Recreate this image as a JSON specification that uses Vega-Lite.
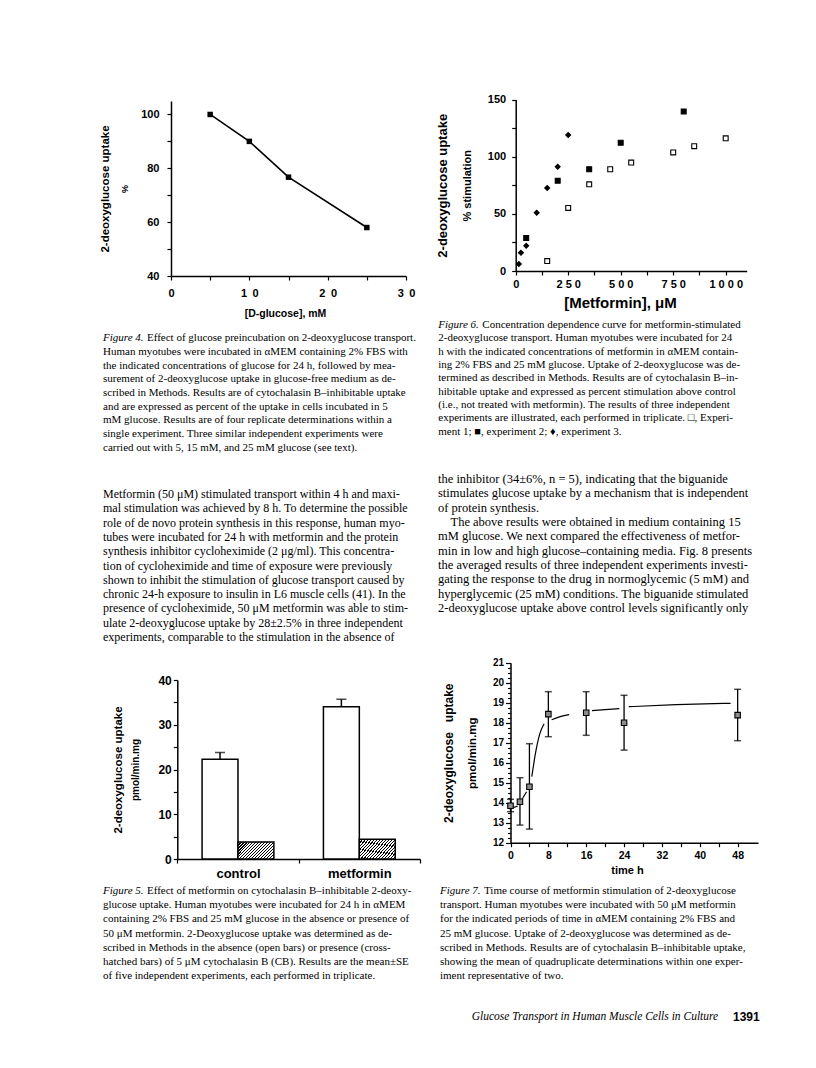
{
"$schema":"https://vega.github.io/schema/vega-lite/v6.json",
"width":816,"height":1068,
"autosize":{"type":"none"},
"padding":0,
"background":"white",
"config":{
 "view":{"stroke":null},
 "axis":{"grid":false,"domainColor":"#000","tickColor":"#000","labelColor":"#000","titleColor":"#000","labelFont":"Liberation Sans","titleFont":"Liberation Sans","labelFontWeight":"bold","titleFontWeight":"bold","labelFlush":false,"labelOverlap":false,"domainWidth":1.5,"tickWidth":1.2,"tickSize":4,"minExtent":0}
},
"datasets":{
 "f4":[{"glucose":5,"uptake":100},{"glucose":10,"uptake":90},{"glucose":15,"uptake":76.7},{"glucose":25,"uptake":58}],
 "f6":[
  {"exp":"Experiment 1","metformin":150,"stim":8.7},
  {"exp":"Experiment 1","metformin":250,"stim":55.2},
  {"exp":"Experiment 1","metformin":350,"stim":75.8},
  {"exp":"Experiment 1","metformin":450,"stim":89},
  {"exp":"Experiment 1","metformin":550,"stim":94.8},
  {"exp":"Experiment 1","metformin":750,"stim":103.7},
  {"exp":"Experiment 1","metformin":850,"stim":109.2},
  {"exp":"Experiment 1","metformin":1000,"stim":116},
  {"exp":"Experiment 2","metformin":50,"stim":28.8},
  {"exp":"Experiment 2","metformin":200,"stim":79},
  {"exp":"Experiment 2","metformin":350,"stim":89},
  {"exp":"Experiment 2","metformin":500,"stim":112.2},
  {"exp":"Experiment 2","metformin":800,"stim":139.5},
  {"exp":"Experiment 3","metformin":15,"stim":6.1},
  {"exp":"Experiment 3","metformin":25,"stim":16},
  {"exp":"Experiment 3","metformin":50,"stim":22},
  {"exp":"Experiment 3","metformin":100,"stim":51},
  {"exp":"Experiment 3","metformin":150,"stim":72.6},
  {"exp":"Experiment 3","metformin":200,"stim":91.2},
  {"exp":"Experiment 3","metformin":250,"stim":119}
 ],
 "f5":[
  {"group":"control","cond":"open","uptake":22.3,"upper":23.8},
  {"group":"control","cond":"CB","uptake":3.8},
  {"group":"metformin","cond":"open","uptake":34.0,"upper":35.7},
  {"group":"metformin","cond":"CB","uptake":4.4}
 ],
 "f7":[
  {"t":0,"mean":13.85,"lo":13.55,"hi":14.17},
  {"t":2,"mean":14.05,"lo":12.88,"hi":15.25},
  {"t":4,"mean":14.8,"lo":12.68,"hi":16.95},
  {"t":8,"mean":18.43,"lo":17.3,"hi":19.55},
  {"t":16,"mean":18.5,"lo":17.37,"hi":19.55},
  {"t":24,"mean":18.0,"lo":16.63,"hi":19.37},
  {"t":48,"mean":18.38,"lo":17.1,"hi":19.67}
 ],
 "f7fit":[
  {"seg":1,"t":0.1,"y":13.72},{"seg":1,"t":1.5,"y":13.83},
  {"seg":2,"t":2.5,"y":14.2},{"seg":2,"t":3.4,"y":14.55},
  {"seg":3,"t":4.5,"y":15.3},{"seg":3,"t":5.3,"y":16.5},{"seg":3,"t":6.2,"y":17.45},{"seg":3,"t":7.1,"y":17.95},
  {"seg":4,"t":8.7,"y":18.15},{"seg":4,"t":10.5,"y":18.3},{"seg":4,"t":12.4,"y":18.4},
  {"seg":5,"t":17.2,"y":18.6},{"seg":5,"t":20,"y":18.65},{"seg":5,"t":23,"y":18.7},
  {"seg":6,"t":25,"y":18.8},{"seg":6,"t":35,"y":18.9},{"seg":6,"t":46.5,"y":18.97}
 ],
 "cap4":[
  {"line":1,"lead":"Figure 4.","text":"Effect of glucose preincubation on 2-deoxyglucose transport."},
  {"line":2,"text":"Human myotubes were incubated in αMEM containing 2% FBS with"},
  {"line":3,"text":"the indicated concentrations of glucose for 24 h, followed by mea-"},
  {"line":4,"text":"surement of 2-deoxyglucose uptake in glucose-free medium as de-"},
  {"line":5,"text":"scribed in Methods. Results are of cytochalasin B–inhibitable uptake"},
  {"line":6,"text":"and are expressed as percent of the uptake in cells incubated in 5"},
  {"line":7,"text":"mM glucose. Results are of four replicate determinations within a"},
  {"line":8,"text":"single experiment. Three similar independent experiments were"},
  {"line":9,"text":"carried out with 5, 15 mM, and 25 mM glucose (see text)."}
 ],
 "cap6":[
  {"line":1,"lead":"Figure 6.","text":"Concentration dependence curve for metformin-stimulated"},
  {"line":2,"text":"2-deoxyglucose transport. Human myotubes were incubated for 24"},
  {"line":3,"text":"h with the indicated concentrations of metformin in αMEM contain-"},
  {"line":4,"text":"ing 2% FBS and 25 mM glucose. Uptake of 2-deoxyglucose was de-"},
  {"line":5,"text":"termined as described in Methods. Results are of cytochalasin B–in-"},
  {"line":6,"text":"hibitable uptake and expressed as percent stimulation above control"},
  {"line":7,"text":"(i.e., not treated with metformin). The results of three independent"},
  {"line":8,"text":"experiments are illustrated, each performed in triplicate. □, Experi-"},
  {"line":9,"text":"ment 1; ■, experiment 2; ♦, experiment 3."}
 ],
 "bodyL":[
  {"line":1,"text":"Metformin (50 μM) stimulated transport within 4 h and maxi-"},
  {"line":2,"text":"mal stimulation was achieved by 8 h. To determine the possible"},
  {"line":3,"text":"role of de novo protein synthesis in this response, human myo-"},
  {"line":4,"text":"tubes were incubated for 24 h with metformin and the protein"},
  {"line":5,"text":"synthesis inhibitor cycloheximide (2 μg/ml). This concentra-"},
  {"line":6,"text":"tion of cycloheximide and time of exposure were previously"},
  {"line":7,"text":"shown to inhibit the stimulation of glucose transport caused by"},
  {"line":8,"text":"chronic 24-h exposure to insulin in L6 muscle cells (41). In the"},
  {"line":9,"text":"presence of cycloheximide, 50 μM metformin was able to stim-"},
  {"line":10,"text":"ulate 2-deoxyglucose uptake by 28±2.5% in three independent"},
  {"line":11,"text":"experiments, comparable to the stimulation in the absence of"}
 ],
 "bodyR":[
  {"line":1,"text":"the inhibitor (34±6%, n = 5), indicating that the biguanide"},
  {"line":2,"text":"stimulates glucose uptake by a mechanism that is independent"},
  {"line":3,"text":"of protein synthesis."},
  {"line":4,"text":"\u200b\u00a0\u00a0\u00a0\u00a0The above results were obtained in medium containing 15"},
  {"line":5,"text":"mM glucose. We next compared the effectiveness of metfor-"},
  {"line":6,"text":"min in low and high glucose–containing media. Fig. 8 presents"},
  {"line":7,"text":"the averaged results of three independent experiments investi-"},
  {"line":8,"text":"gating the response to the drug in normoglycemic (5 mM) and"},
  {"line":9,"text":"hyperglycemic (25 mM) conditions. The biguanide stimulated"},
  {"line":10,"text":"2-deoxyglucose uptake above control levels significantly only"}
 ],
 "cap5":[
  {"line":1,"lead":"Figure 5.","text":"Effect of metformin on cytochalasin B–inhibitable 2-deoxy-"},
  {"line":2,"text":"glucose uptake. Human myotubes were incubated for 24 h in αMEM"},
  {"line":3,"text":"containing 2% FBS and 25 mM glucose in the absence or presence of"},
  {"line":4,"text":"50 μM metformin. 2-Deoxyglucose uptake was determined as de-"},
  {"line":5,"text":"scribed in Methods in the absence (open bars) or presence (cross-"},
  {"line":6,"text":"hatched bars) of 5 μM cytochalasin B (CB). Results are the mean±SE"},
  {"line":7,"text":"of five independent experiments, each performed in triplicate."}
 ],
 "cap7":[
  {"line":1,"lead":"Figure 7.","text":"Time course of metformin stimulation of 2-deoxyglucose"},
  {"line":2,"text":"transport. Human myotubes were incubated with 50 μM metformin"},
  {"line":3,"text":"for the indicated periods of time in αMEM containing 2% FBS and"},
  {"line":4,"text":"25 mM glucose. Uptake of 2-deoxyglucose was determined as de-"},
  {"line":5,"text":"scribed in Methods. Results are of cytochalasin B–inhibitable uptake,"},
  {"line":6,"text":"showing the mean of quadruplicate determinations within one exper-"},
  {"line":7,"text":"iment representative of two."}
 ],
 "footer":[
  {"part":"title","text":"Glucose Transport in Human Muscle Cells in Culture"},
  {"part":"page","text":"1391"}
 ]
},
"layer":[
 {"data":{"name":"f4"},
  "layer":[
   {"mark":{"type":"line","color":"#000","strokeWidth":1.6},
    "encoding":{
     "x":{"field":"glucose","type":"quantitative","scale":{"domain":[0,30],"range":[171,406],"nice":false,"zero":false},
      "axis":{"orient":"bottom","offset":-792,"values":[0,5,10,15,20,25,30],"labelExpr":"datum.value % 10 == 0 ? join(split(format(datum.value, 'd'), ''), '\u2002') : ''","labelFontSize":11,"labelPadding":7,"title":"[D-glucose], mM","titleFontSize":10.5,"titleX":285,"titleY":37,"titleAlign":"center","titleBaseline":"middle"}},
     "y":{"field":"uptake","type":"quantitative","scale":{"domain":[40,105],"range":[276,101],"nice":false,"zero":false},
      "axis":{"orient":"left","offset":-171,"values":[40,50,60,70,80,90,100],"labelExpr":"datum.value % 20 == 0 ? datum.label : ''","labelFontSize":11,"labelPadding":8,"title":"%","titleFontSize":9,"titlePadding":11}}}},
   {"mark":{"type":"square","color":"#000","size":30,"opacity":1},
    "encoding":{
     "x":{"field":"glucose","type":"quantitative","scale":{"domain":[0,30],"range":[171,406],"nice":false,"zero":false},"axis":null},
     "y":{"field":"uptake","type":"quantitative","scale":{"domain":[40,105],"range":[276,101],"nice":false,"zero":false},
      "axis":{"orient":"left","offset":-171,"labels":false,"ticks":false,"domain":false,"title":"2-deoxyglucose uptake","titleFontSize":11.5,"titlePadding":61}}}}
  ],
  "resolve":{"axis":{"x":"independent","y":"independent"}}
 },
 {"data":{"name":"f6"},
  "layer":[
   {"mark":{"type":"point","filled":true,"size":24,"stroke":"#000","strokeWidth":1.1,"opacity":1},
    "encoding":{
     "x":{"field":"metformin","type":"quantitative","scale":{"domain":[0,1100],"range":[515.7,746.7],"nice":false,"zero":false},
      "axis":{"orient":"bottom","offset":-797,"values":[0,125,250,375,500,625,750,875,1000],"labelExpr":"datum.value % 250 == 0 ? join(split(format(datum.value, 'd'), ''), ' ') : ''","labelFontSize":11,"labelPadding":3,"title":"[Metformin], μM","titleFontSize":15,"titleX":620,"titleY":31,"titleAlign":"center","titleBaseline":"middle"}},
     "y":{"field":"stim","type":"quantitative","scale":{"domain":[0,150],"range":[271,99.5],"nice":false,"zero":false},
      "axis":{"orient":"left","offset":-515.7,"values":[0,25,50,75,100,125,150],"labelExpr":"datum.value % 50 == 0 ? datum.label : ''","labelFontSize":11,"labelPadding":6,"title":"% stimulation","titleFontSize":11,"titlePadding":15}},
     "shape":{"field":"exp","type":"nominal","scale":{"domain":["Experiment 1","Experiment 2","Experiment 3"],"range":["square","square","diamond"]},"legend":null},
     "fill":{"field":"exp","type":"nominal","scale":{"domain":["Experiment 1","Experiment 2","Experiment 3"],"range":["#ffffff","#000000","#000000"]},"legend":null}}},
   {"mark":{"type":"point","opacity":0},
    "encoding":{
     "x":{"field":"metformin","type":"quantitative","scale":{"domain":[0,1100],"range":[515.7,746.7],"nice":false,"zero":false},"axis":null},
     "y":{"field":"stim","type":"quantitative","scale":{"domain":[0,150],"range":[271,99.5],"nice":false,"zero":false},
      "axis":{"orient":"left","offset":-515.7,"labels":false,"ticks":false,"domain":false,"title":"2-deoxyglucose uptake","titleFontSize":13,"titlePadding":66}}}}
  ],
  "resolve":{"axis":{"x":"independent","y":"independent"}}
 },
 {"data":{"name":"f5"},
  "layer":[
   {"transform":[{"filter":"datum.cond == 'open'"}],
    "mark":{"type":"bar","fill":"#fff","stroke":"#000","strokeWidth":1.5},
    "encoding":{
     "x":{"field":"group","type":"nominal","scale":{"domain":["control","metformin"],"range":[177.3,420],"paddingInner":0,"paddingOuter":0},
      "axis":{"orient":"bottom","offset":-209,"labelAngle":0,"labelFontSize":13,"labelPadding":4,"tickBand":"extent","title":null}},
     "xOffset":{"field":"cond","type":"nominal","scale":{"domain":["open","CB"],"paddingInner":0,"paddingOuter":0.69}},
     "y":{"field":"uptake","type":"quantitative","scale":{"domain":[0,40],"range":[859,680],"nice":false},
      "axis":{"orient":"left","offset":-177.3,"values":[0,5,10,15,20,25,30,35,40],"labelExpr":"datum.value % 10 == 0 ? datum.label : ''","labelFontSize":12,"labelPadding":2,"title":"pmol/min.mg","titleFontSize":10,"titlePadding":17}}}},
   {"transform":[{"filter":"datum.cond == 'CB'"}],
    "mark":{"type":"bar","stroke":"#000","strokeWidth":1.5,
     "fill":{"gradient":"linear","x1":0,"y1":0,"x2":1.21,"y2":0.57,"stops":[
      {"offset":0,"color":"#000"},{"offset":0.0222,"color":"#000"},{"offset":0.0222,"color":"#fff"},{"offset":0.0556,"color":"#fff"},
      {"offset":0.0556,"color":"#000"},{"offset":0.0778,"color":"#000"},{"offset":0.0778,"color":"#fff"},{"offset":0.1111,"color":"#fff"},
      {"offset":0.1111,"color":"#000"},{"offset":0.1333,"color":"#000"},{"offset":0.1333,"color":"#fff"},{"offset":0.1667,"color":"#fff"},
      {"offset":0.1667,"color":"#000"},{"offset":0.1889,"color":"#000"},{"offset":0.1889,"color":"#fff"},{"offset":0.2222,"color":"#fff"},
      {"offset":0.2222,"color":"#000"},{"offset":0.2444,"color":"#000"},{"offset":0.2444,"color":"#fff"},{"offset":0.2778,"color":"#fff"},
      {"offset":0.2778,"color":"#000"},{"offset":0.3,"color":"#000"},{"offset":0.3,"color":"#fff"},{"offset":0.3333,"color":"#fff"},
      {"offset":0.3333,"color":"#000"},{"offset":0.3556,"color":"#000"},{"offset":0.3556,"color":"#fff"},{"offset":0.3889,"color":"#fff"},
      {"offset":0.3889,"color":"#000"},{"offset":0.4111,"color":"#000"},{"offset":0.4111,"color":"#fff"},{"offset":0.4444,"color":"#fff"},
      {"offset":0.4444,"color":"#000"},{"offset":0.4667,"color":"#000"},{"offset":0.4667,"color":"#fff"},{"offset":0.5,"color":"#fff"},
      {"offset":0.5,"color":"#000"},{"offset":0.5222,"color":"#000"},{"offset":0.5222,"color":"#fff"},{"offset":0.5556,"color":"#fff"},
      {"offset":0.5556,"color":"#000"},{"offset":0.5778,"color":"#000"},{"offset":0.5778,"color":"#fff"},{"offset":0.6111,"color":"#fff"},
      {"offset":0.6111,"color":"#000"},{"offset":0.6333,"color":"#000"},{"offset":0.6333,"color":"#fff"},{"offset":0.6667,"color":"#fff"},
      {"offset":0.6667,"color":"#000"},{"offset":0.6889,"color":"#000"},{"offset":0.6889,"color":"#fff"},{"offset":0.7222,"color":"#fff"},
      {"offset":0.7222,"color":"#000"},{"offset":0.7444,"color":"#000"},{"offset":0.7444,"color":"#fff"},{"offset":0.7778,"color":"#fff"},
      {"offset":0.7778,"color":"#000"},{"offset":0.8,"color":"#000"},{"offset":0.8,"color":"#fff"},{"offset":0.8333,"color":"#fff"},
      {"offset":0.8333,"color":"#000"},{"offset":0.8556,"color":"#000"},{"offset":0.8556,"color":"#fff"},{"offset":0.8889,"color":"#fff"},
      {"offset":0.8889,"color":"#000"},{"offset":0.9111,"color":"#000"},{"offset":0.9111,"color":"#fff"},{"offset":0.9444,"color":"#fff"},
      {"offset":0.9444,"color":"#000"},{"offset":0.9667,"color":"#000"},{"offset":0.9667,"color":"#fff"},{"offset":1,"color":"#fff"}
     ]}},
    "encoding":{
     "x":{"field":"group","type":"nominal","scale":{"domain":["control","metformin"],"range":[177.3,420],"paddingInner":0,"paddingOuter":0},"axis":null},
     "xOffset":{"field":"cond","type":"nominal","scale":{"domain":["open","CB"],"paddingInner":0,"paddingOuter":0.69}},
     "y":{"field":"uptake","type":"quantitative","scale":{"domain":[0,40],"range":[859,680],"nice":false},
      "axis":{"orient":"left","offset":-177.3,"labels":false,"ticks":false,"domain":false,"title":"2-deoxyglucose uptake","titleFontSize":11.5,"titlePadding":54}}}},
   {"transform":[{"filter":"datum.cond == 'open'"}],
    "mark":{"type":"rule","color":"#000","strokeWidth":1.5},
    "encoding":{
     "x":{"field":"group","type":"nominal","scale":{"domain":["control","metformin"],"range":[177.3,420],"paddingInner":0,"paddingOuter":0},"axis":null},
     "xOffset":{"field":"cond","type":"nominal","scale":{"domain":["open","CB"],"paddingInner":0,"paddingOuter":0.69}},
     "y":{"field":"uptake","type":"quantitative","scale":{"domain":[0,40],"range":[859,680],"nice":false},"axis":null},
     "y2":{"field":"upper"}}},
   {"transform":[{"filter":"datum.cond == 'open'"}],
    "mark":{"type":"tick","orient":"horizontal","color":"#000","size":10,"thickness":1.5},
    "encoding":{
     "x":{"field":"group","type":"nominal","scale":{"domain":["control","metformin"],"range":[177.3,420],"paddingInner":0,"paddingOuter":0},"axis":null},
     "xOffset":{"field":"cond","type":"nominal","scale":{"domain":["open","CB"],"paddingInner":0,"paddingOuter":0.69}},
     "y":{"field":"upper","type":"quantitative","scale":{"domain":[0,40],"range":[859,680],"nice":false},"axis":null}}}
  ],
  "resolve":{"axis":{"x":"independent","y":"independent"}}
 },
 {"layer":[
   {"data":{"name":"f7fit"},
    "mark":{"type":"line","color":"#000","strokeWidth":1.2,"interpolate":"monotone"},
    "encoding":{
     "x":{"field":"t","type":"quantitative","scale":{"domain":[0,52.3],"range":[510.5,758],"nice":false,"zero":false},
      "axis":{"orient":"bottom","offset":-225.3,"values":[0,4,8,12,16,20,24,28,32,36,40,44,48],"labelExpr":"datum.value % 8 == 0 ? datum.label : ''","labelFontSize":10.5,"labelPadding":4,"title":"time h","titleFontSize":11,"titleX":627,"titleY":27.5,"titleAlign":"center","titleBaseline":"middle"}},
     "y":{"field":"y","type":"quantitative","scale":{"domain":[12,21],"range":[842.7,662.7],"nice":false,"zero":false},
      "axis":{"orient":"left","offset":-510.5,"values":[12,12.25,12.5,12.75,13,13.25,13.5,13.75,14,14.25,14.5,14.75,15,15.25,15.5,15.75,16,16.25,16.5,16.75,17,17.25,17.5,17.75,18,18.25,18.5,18.75,19,19.25,19.5,19.75,20,20.25,20.5,20.75,21],"labelExpr":"datum.value % 1 == 0 ? format(datum.value, 'd') : ''","tickSize":{"condition":{"test":"datum.value % 1 == 0","value":5},"value":3},"labelFontSize":10,"labelPadding":2,"title":"pmol/min.mg","titleFontSize":11.5,"titlePadding":15}},
     "detail":{"field":"seg","type":"nominal"}}},
   {"data":{"name":"f7"},
    "mark":{"type":"rule","color":"#000","strokeWidth":1.3},
    "encoding":{
     "x":{"field":"t","type":"quantitative","scale":{"domain":[0,52.3],"range":[510.5,758],"nice":false,"zero":false},"axis":null},
     "y":{"field":"lo","type":"quantitative","scale":{"domain":[12,21],"range":[842.7,662.7],"nice":false,"zero":false},"axis":null},
     "y2":{"field":"hi"}}},
   {"data":{"name":"f7"},
    "mark":{"type":"tick","orient":"horizontal","color":"#000","size":7,"thickness":1.5},
    "encoding":{
     "x":{"field":"t","type":"quantitative","scale":{"domain":[0,52.3],"range":[510.5,758],"nice":false,"zero":false},"axis":null},
     "y":{"field":"lo","type":"quantitative","scale":{"domain":[12,21],"range":[842.7,662.7],"nice":false,"zero":false},"axis":null}}},
   {"data":{"name":"f7"},
    "mark":{"type":"tick","orient":"horizontal","color":"#000","size":7,"thickness":1.5},
    "encoding":{
     "x":{"field":"t","type":"quantitative","scale":{"domain":[0,52.3],"range":[510.5,758],"nice":false,"zero":false},"axis":null},
     "y":{"field":"hi","type":"quantitative","scale":{"domain":[12,21],"range":[842.7,662.7],"nice":false,"zero":false},"axis":null}}},
   {"data":{"name":"f7"},
    "mark":{"type":"square","size":30,"fill":"#8c8c8c","stroke":"#000","strokeWidth":1.1,"opacity":1},
    "encoding":{
     "x":{"field":"t","type":"quantitative","scale":{"domain":[0,52.3],"range":[510.5,758],"nice":false,"zero":false},"axis":null},
     "y":{"field":"mean","type":"quantitative","scale":{"domain":[12,21],"range":[842.7,662.7],"nice":false,"zero":false},
      "axis":{"orient":"left","offset":-510.5,"labels":false,"ticks":false,"domain":false,"title":"2-deoxyglucose\u00a0\u00a0\u00a0uptake","titleFontSize":12,"titlePadding":55}}}}
  ],
  "resolve":{"axis":{"x":"independent","y":"independent"}}
 },
 {"data":{"name":"cap4"},
  "layer":[
   {"transform":[{"filter":"!datum.lead"}],
    "mark":{"type":"text","align":"left","baseline":"middle","font":"Liberation Serif","fontSize":11,"fill":"#000"},
    "encoding":{
     "x":{"datum":0,"type":"quantitative","scale":{"domain":[0,1],"range":[103,104]},"axis":null},
     "y":{"field":"line","type":"quantitative","scale":{"domain":[1,9],"range":[338.3,447.7]},"axis":null},
     "text":{"field":"text"}}},
   {"transform":[{"filter":"datum.lead"}],
    "mark":{"type":"text","align":"left","baseline":"middle","font":"Liberation Serif","fontSize":11,"fill":"#000","dx":44},
    "encoding":{
     "x":{"datum":0,"type":"quantitative","scale":{"domain":[0,1],"range":[103,104]},"axis":null},
     "y":{"field":"line","type":"quantitative","scale":{"domain":[1,9],"range":[338.3,447.7]},"axis":null},
     "text":{"field":"text"}}},
   {"transform":[{"filter":"datum.lead"}],
    "mark":{"type":"text","align":"left","baseline":"middle","font":"Liberation Serif","fontStyle":"italic","fontSize":11,"fill":"#000"},
    "encoding":{
     "x":{"datum":0,"type":"quantitative","scale":{"domain":[0,1],"range":[103,104]},"axis":null},
     "y":{"field":"line","type":"quantitative","scale":{"domain":[1,9],"range":[338.3,447.7]},"axis":null},
     "text":{"field":"lead"}}}
  ]
 },
 {"data":{"name":"cap6"},
  "layer":[
   {"transform":[{"filter":"!datum.lead"}],
    "mark":{"type":"text","align":"left","baseline":"middle","font":"Liberation Serif","fontSize":11,"fill":"#000"},
    "encoding":{
     "x":{"datum":0,"type":"quantitative","scale":{"domain":[0,1],"range":[438.3,439.3]},"axis":null},
     "y":{"field":"line","type":"quantitative","scale":{"domain":[1,9],"range":[325,431.7]},"axis":null},
     "text":{"field":"text"}}},
   {"transform":[{"filter":"datum.lead"}],
    "mark":{"type":"text","align":"left","baseline":"middle","font":"Liberation Serif","fontSize":11,"fill":"#000","dx":44},
    "encoding":{
     "x":{"datum":0,"type":"quantitative","scale":{"domain":[0,1],"range":[438.3,439.3]},"axis":null},
     "y":{"field":"line","type":"quantitative","scale":{"domain":[1,9],"range":[325,431.7]},"axis":null},
     "text":{"field":"text"}}},
   {"transform":[{"filter":"datum.lead"}],
    "mark":{"type":"text","align":"left","baseline":"middle","font":"Liberation Serif","fontStyle":"italic","fontSize":11,"fill":"#000"},
    "encoding":{
     "x":{"datum":0,"type":"quantitative","scale":{"domain":[0,1],"range":[438.3,439.3]},"axis":null},
     "y":{"field":"line","type":"quantitative","scale":{"domain":[1,9],"range":[325,431.7]},"axis":null},
     "text":{"field":"lead"}}}
  ]
 },
 {"data":{"name":"bodyL"},
  "mark":{"type":"text","align":"left","baseline":"middle","font":"Liberation Serif","fontSize":12,"fill":"#000"},
  "encoding":{
   "x":{"datum":0,"type":"quantitative","scale":{"domain":[0,1],"range":[103,104]},"axis":null},
   "y":{"field":"line","type":"quantitative","scale":{"domain":[1,11],"range":[494,637]},"axis":null},
   "text":{"field":"text"}}
 },
 {"data":{"name":"bodyR"},
  "mark":{"type":"text","align":"left","baseline":"middle","font":"Liberation Serif","fontSize":12.5,"fill":"#000"},
  "encoding":{
   "x":{"datum":0,"type":"quantitative","scale":{"domain":[0,1],"range":[438,439]},"axis":null},
   "y":{"field":"line","type":"quantitative","scale":{"domain":[1,10],"range":[479,608]},"axis":null},
   "text":{"field":"text"}}
 },
 {"data":{"name":"cap5"},
  "layer":[
   {"transform":[{"filter":"!datum.lead"}],
    "mark":{"type":"text","align":"left","baseline":"middle","font":"Liberation Serif","fontSize":11,"fill":"#000"},
    "encoding":{
     "x":{"datum":0,"type":"quantitative","scale":{"domain":[0,1],"range":[103,104]},"axis":null},
     "y":{"field":"line","type":"quantitative","scale":{"domain":[1,7],"range":[891,976]},"axis":null},
     "text":{"field":"text"}}},
   {"transform":[{"filter":"datum.lead"}],
    "mark":{"type":"text","align":"left","baseline":"middle","font":"Liberation Serif","fontSize":11,"fill":"#000","dx":44},
    "encoding":{
     "x":{"datum":0,"type":"quantitative","scale":{"domain":[0,1],"range":[103,104]},"axis":null},
     "y":{"field":"line","type":"quantitative","scale":{"domain":[1,7],"range":[891,976]},"axis":null},
     "text":{"field":"text"}}},
   {"transform":[{"filter":"datum.lead"}],
    "mark":{"type":"text","align":"left","baseline":"middle","font":"Liberation Serif","fontStyle":"italic","fontSize":11,"fill":"#000"},
    "encoding":{
     "x":{"datum":0,"type":"quantitative","scale":{"domain":[0,1],"range":[103,104]},"axis":null},
     "y":{"field":"line","type":"quantitative","scale":{"domain":[1,7],"range":[891,976]},"axis":null},
     "text":{"field":"lead"}}}
  ]
 },
 {"data":{"name":"cap7"},
  "layer":[
   {"transform":[{"filter":"!datum.lead"}],
    "mark":{"type":"text","align":"left","baseline":"middle","font":"Liberation Serif","fontSize":11,"fill":"#000"},
    "encoding":{
     "x":{"datum":0,"type":"quantitative","scale":{"domain":[0,1],"range":[440,441]},"axis":null},
     "y":{"field":"line","type":"quantitative","scale":{"domain":[1,7],"range":[891,976]},"axis":null},
     "text":{"field":"text"}}},
   {"transform":[{"filter":"datum.lead"}],
    "mark":{"type":"text","align":"left","baseline":"middle","font":"Liberation Serif","fontSize":11,"fill":"#000","dx":44},
    "encoding":{
     "x":{"datum":0,"type":"quantitative","scale":{"domain":[0,1],"range":[440,441]},"axis":null},
     "y":{"field":"line","type":"quantitative","scale":{"domain":[1,7],"range":[891,976]},"axis":null},
     "text":{"field":"text"}}},
   {"transform":[{"filter":"datum.lead"}],
    "mark":{"type":"text","align":"left","baseline":"middle","font":"Liberation Serif","fontStyle":"italic","fontSize":11,"fill":"#000"},
    "encoding":{
     "x":{"datum":0,"type":"quantitative","scale":{"domain":[0,1],"range":[440,441]},"axis":null},
     "y":{"field":"line","type":"quantitative","scale":{"domain":[1,7],"range":[891,976]},"axis":null},
     "text":{"field":"lead"}}}
  ]
 },
 {"data":{"name":"footer"},
  "layer":[
   {"transform":[{"filter":"datum.part == 'title'"}],
    "mark":{"type":"text","align":"left","baseline":"middle","font":"Liberation Serif","fontStyle":"italic","fontSize":11.5,"fill":"#000"},
    "encoding":{
     "x":{"datum":0,"type":"quantitative","scale":{"domain":[0,1],"range":[471.7,733]},"axis":null},
     "y":{"datum":0,"type":"quantitative","scale":{"domain":[0,1],"range":[1017,1018]},"axis":null},
     "text":{"field":"text"}}},
   {"transform":[{"filter":"datum.part == 'page'"}],
    "mark":{"type":"text","align":"left","baseline":"middle","font":"Liberation Sans","fontWeight":"bold","fontSize":12,"fill":"#000"},
    "encoding":{
     "x":{"datum":1,"type":"quantitative","scale":{"domain":[0,1],"range":[471.7,733]},"axis":null},
     "y":{"datum":0,"type":"quantitative","scale":{"domain":[0,1],"range":[1017,1018]},"axis":null},
     "text":{"field":"text"}}}
  ]
 }
],
"resolve":{"scale":{"x":"independent","y":"independent"}}
}
